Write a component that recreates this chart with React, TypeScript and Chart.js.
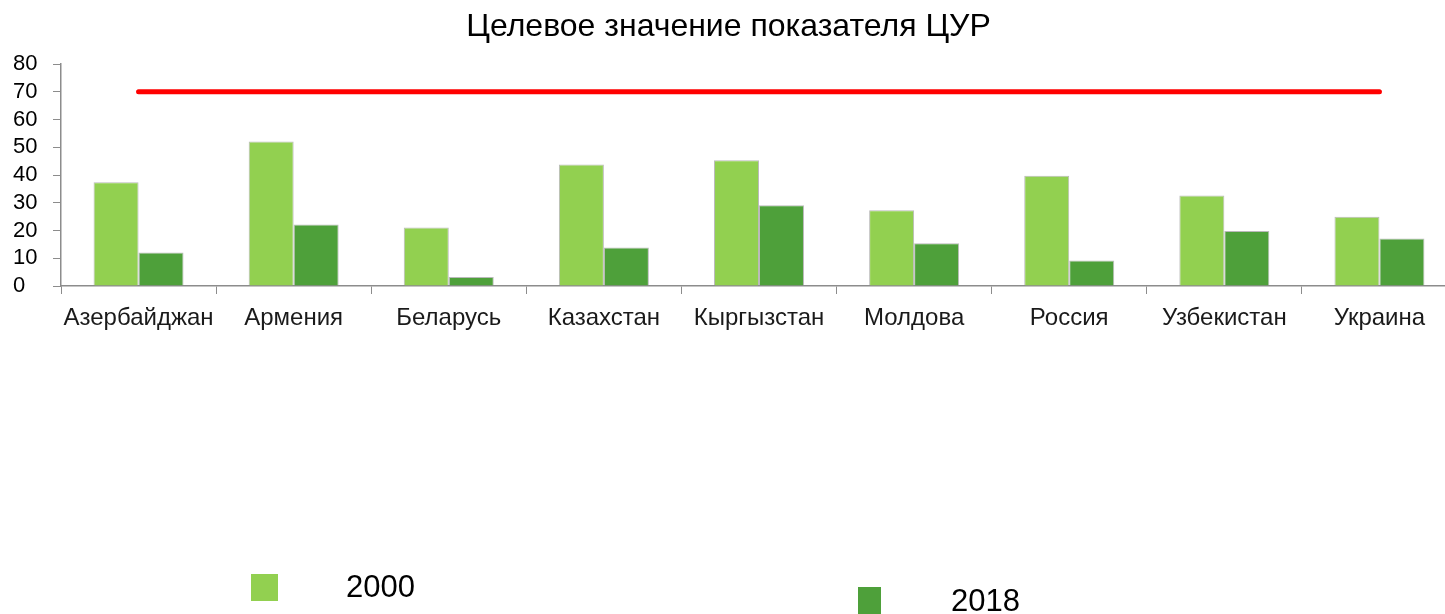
import React, { useEffect, useRef } from "react";
import { Chart, registerables } from "chart.js";

Chart.register(...registerables);

const categories = [
  "Азербайджан",
  "Армения",
  "Беларусь",
  "Казахстан",
  "Кыргызстан",
  "Молдова",
  "Россия",
  "Узбекистан",
  "Украина",
];
const values2000 = [37.4, 52.1, 21.1, 43.8, 45.3, 27.3, 39.7, 32.6, 25.0];
const values2018 = [12.1, 22.2, 3.2, 13.9, 29.1, 15.4, 9.2, 19.8, 17.1];
const targetValues = [70, 70, 70, 70, 70, 70, 70, 70, 70];
const seriesLabels = ["2000", "2018"];
const seriesColors = ["#92D050", "#4EA03A"];
const targetLabel = "Целевое значение показателя ЦУР";

const FONT = "'Liberation Sans', Arial, sans-serif";

// shifts the left-aligned y tick labels to start 13px from the canvas edge
const yLabelShift = {
  id: "yLabelShift",
  afterLayout(chart: any) {
    const y = chart.scales.y;
    if (y) y.left = 13;
  },
};

export default function App() {
  const canvasRef = useRef<HTMLCanvasElement | null>(null);

  useEffect(() => {
    const canvas = canvasRef.current;
    if (!canvas) return;
    const chart = new Chart(canvas, {
      type: "bar",
      data: {
        labels: categories,
        datasets: [
          {
            type: "line",
            label: targetLabel,
            data: targetValues,
            borderColor: "#FF0000",
            backgroundColor: "#FF0000",
            borderWidth: 5,
            borderCapStyle: "round",
            pointRadius: 0,
            order: 0,
          } as any,
          {
            label: seriesLabels[0],
            data: values2000,
            backgroundColor: seriesColors[0],
            borderColor: "rgba(140,140,140,0.6)",
            borderWidth: 1,
            categoryPercentage: 0.58,
            barPercentage: 1,
            order: 1,
          },
          {
            label: seriesLabels[1],
            data: values2018,
            backgroundColor: seriesColors[1],
            borderColor: "rgba(140,140,140,0.6)",
            borderWidth: 1,
            categoryPercentage: 0.58,
            barPercentage: 1,
            order: 1,
          },
        ],
      },
      plugins: [yLabelShift],
      options: {
        responsive: false,
        animation: false,
        devicePixelRatio: 1,
        layout: { padding: { left: 0, right: 0, top: 0, bottom: 0 } },
        plugins: {
          legend: { display: false },
          tooltip: { enabled: false },
          title: {
            display: true,
            text: targetLabel,
            color: "#000",
            font: { family: FONT, size: 32, weight: "normal" },
            padding: { top: 8, bottom: 17.6 },
          },
        },
        scales: {
          x: {
            grid: {
              drawOnChartArea: false,
              drawTicks: true,
              tickLength: 8,
              color: "#8c8c8c",
              offset: true,
            },
            border: { color: "#8c8c8c", width: 1.5 },
            ticks: {
              color: "#1a1a1a",
              font: { family: FONT, size: 24 },
              padding: 10,
              maxRotation: 0,
              autoSkip: false,
            },
            afterFit: (scale: any) => {
              scale.height = 614 - 286;
            },
          },
          y: {
            min: 0,
            max: 80,
            grid: {
              drawOnChartArea: false,
              drawTicks: true,
              tickLength: 8,
              color: "#8c8c8c",
            },
            border: { color: "#8c8c8c", width: 1.5 },
            ticks: {
              stepSize: 10,
              autoSkip: false,
              color: "#000",
              crossAlign: "far",
              font: { family: FONT, size: 22 },
            },
            afterFit: (scale: any) => {
              scale.width = 61;
            },
          },
        },
      },
    });
    return () => chart.destroy();
  }, []);

  const legendItems = [
    { label: seriesLabels[0], color: seriesColors[0], boxX: 251, boxY: 574, boxW: 27, boxH: 27, textX: 346, textY: 570 },
    { label: seriesLabels[1], color: seriesColors[1], boxX: 858, boxY: 587, boxW: 23, boxH: 27, textX: 951, textY: 584 },
  ];

  return (
    <div
      style={{
        position: "absolute",
        left: 0,
        top: 0,
        width: 1445,
        height: 614,
        overflow: "hidden",
        background: "#fff",
      }}
    >
      <canvas ref={canvasRef} width={1457} height={614} style={{ display: "block" }} />
      {legendItems.map((it) => (
        <React.Fragment key={it.label}>
          <div
            style={{
              position: "absolute",
              left: it.boxX,
              top: it.boxY,
              width: it.boxW,
              height: it.boxH,
              background: it.color,
            }}
          />
          <div
            style={{
              position: "absolute",
              left: it.textX,
              top: it.textY,
              fontFamily: FONT,
              fontSize: 31,
              lineHeight: "34px",
              color: "#000",
              whiteSpace: "nowrap",
            }}
          >
            {it.label}
          </div>
        </React.Fragment>
      ))}
    </div>
  );
}
